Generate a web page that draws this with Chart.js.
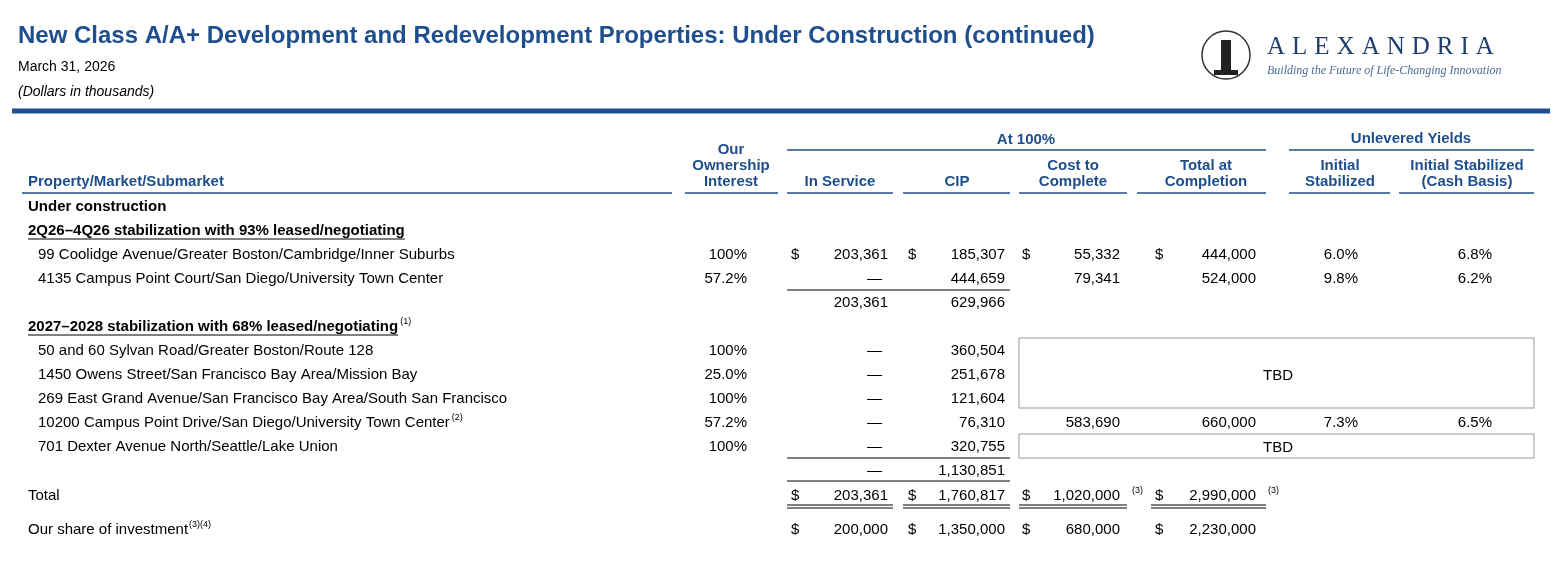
<!DOCTYPE html>
<html><head><meta charset="utf-8">
<script src="https://cdn.jsdelivr.net/npm/chart.js@4"></script>
<style>html,body{margin:0;padding:0;background:#fff}#w{width:1565px;height:567px}</style>
</head><body><div id="w"><canvas id="c"></canvas></div>
<script>
const title = "New Class A/A+ Development and Redevelopment Properties: Under Construction (continued)";
const subtitle = "March 31, 2026";
const unitsNote = "(Dollars in thousands)";
const group1 = "2Q26–4Q26 stabilization with 93% leased/negotiating";
const group2 = "2027–2028 stabilization with 68% leased/negotiating";
const properties = ["99 Coolidge Avenue/Greater Boston/Cambridge/Inner Suburbs","4135 Campus Point Court/San Diego/University Town Center",
 "50 and 60 Sylvan Road/Greater Boston/Route 128","1450 Owens Street/San Francisco Bay Area/Mission Bay","269 East Grand Avenue/San Francisco Bay Area/South San Francisco","10200 Campus Point Drive/San Diego/University Town Center","701 Dexter Avenue North/Seattle/Lake Union"];
const ownership = ["100%","57.2%","100%","25.0%","100%","57.2%","100%"];
const inService = ["203,361","—","—","—","—","—","—"];
const cip = ["185,307","444,659","360,504","251,678","121,604","76,310","320,755"];
const costToComplete = ["55,332","79,341","","","","583,690",""];
const totalAtCompletion = ["444,000","524,000","","","","660,000",""];
const initialStabilized = ["6.0%","9.8%","","","","7.3%",""];
const cashBasis = ["6.8%","6.2%","","","","6.5%",""];
const subtotal1 = ["203,361","629,966"];
const subtotal2 = ["—","1,130,851"];
const totals = ["203,361","1,760,817","1,020,000","2,990,000"];
const ourShare = ["200,000","1,350,000","680,000","2,230,000"];

const BLUE="#1f4e8c", F="'Liberation Sans', Arial, sans-serif";
const tablePlugin={id:'tbl',afterDraw(ch){
 const c=ch.ctx,X=v=>ch.scales.x.getPixelForValue(v),Y=v=>ch.scales.y.getPixelForValue(v);
 const T=(s,x,y,o={})=>{c.font=(o.f||'15px ')+F;c.fillStyle=o.c||'#000';c.textAlign=o.a||'left';c.textBaseline='middle';c.letterSpacing=o.ls||'0px';c.fillText(s,X(x),Y(y)+2);c.letterSpacing='0px';};
 const L=(x1,x2,y,w=1,col='#000')=>{c.strokeStyle=col;c.lineWidth=w;c.beginPath();c.moveTo(X(x1),Y(y));c.lineTo(X(x2),Y(y));c.stroke();};
 c.save();
 T(title,18,34,{f:'bold 24px ',c:BLUE});
 T(subtitle,18,65,{f:'14px '});
 T(unitsNote,18,90,{f:'italic 14px '});
 // logo
 c.strokeStyle='#333';c.lineWidth=1.5;c.beginPath();c.arc(X(1226),Y(55),24,0,7);c.stroke();
 c.fillStyle='#222';c.fillRect(X(1221),Y(40),10,32);c.fillRect(X(1214),Y(70),24,5);
 T("ALEXANDRIA",1267,45,{f:'25px "Liberation Serif",',c:'#1f3f6e',ls:'7px'});
 T("Building the Future of Life-Changing Innovation",1267,69,{f:'italic 12px "Liberation Serif",',c:'#4a6a95'});
 L(12,1550,111,5,BLUE);
 const hb='bold 15px ';
 T("At 100%",1026,138,{f:hb,c:BLUE,a:'center'});L(787,1266,150,1.5,BLUE);
 T("Unlevered Yields",1411,137,{f:hb,c:BLUE,a:'center'});L(1289,1534,150,1.5,BLUE);
 T("Our",731,148,{f:hb,c:BLUE,a:'center'});T("Ownership",731,164,{f:hb,c:BLUE,a:'center'});T("Interest",731,180,{f:hb,c:BLUE,a:'center'});
 T("Property/Market/Submarket",28,180,{f:hb,c:BLUE});
 T("In Service",840,180,{f:hb,c:BLUE,a:'center'});T("CIP",957,180,{f:hb,c:BLUE,a:'center'});
 T("Cost to",1073,164,{f:hb,c:BLUE,a:'center'});T("Complete",1073,180,{f:hb,c:BLUE,a:'center'});
 T("Total at",1206,164,{f:hb,c:BLUE,a:'center'});T("Completion",1206,180,{f:hb,c:BLUE,a:'center'});
 T("Initial",1340,164,{f:hb,c:BLUE,a:'center'});T("Stabilized",1340,180,{f:hb,c:BLUE,a:'center'});
 T("Initial Stabilized",1467,164,{f:hb,c:BLUE,a:'center'});T("(Cash Basis)",1467,180,{f:hb,c:BLUE,a:'center'});
 [[22,672],[685,778],[787,893],[903,1010],[1019,1127],[1137,1266],[1289,1390],[1399,1534]].forEach(s=>L(s[0],s[1],193,1.5,BLUE));
 T("Under construction",28,205,{f:'bold 15px '});
 const ul=(s,x,y)=>{T(s,x,y,{f:'bold 15px '});c.font='bold 15px '+F;const w=c.measureText(s).width;c.strokeStyle='#000';c.lineWidth=1;c.beginPath();c.moveTo(X(x),Y(y)+10);c.lineTo(X(x)+w,Y(y)+10);c.stroke();return w;};
 ul(group1,28,229);
 const w2=ul(group2,28,325);c.font='9px '+F;c.fillStyle='#000';c.textBaseline='middle';c.textAlign='left';c.fillText("(1)",X(28)+w2+2,Y(322));
 const rowsY=[253,277,349,373,397,421,445];
 rowsY.forEach((y,i)=>{
  T(properties[i],38,y);
  if(i===5){c.font='15px '+F;const w=c.measureText(properties[i]).width;c.font='9px '+F;c.fillText("(2)",X(38)+w+2,Y(y-3));}
  T(ownership[i],747,y,{a:'right'});
  const dash=inService[i]==='—';
  T(inService[i],dash?882:888,y,{a:'right'});
  T(cip[i],1005,y,{a:'right'});
  if(costToComplete[i]){T(costToComplete[i],1120,y,{a:'right'});T(totalAtCompletion[i],1256,y,{a:'right'});
   T(initialStabilized[i],1358,y,{a:'right'});T(cashBasis[i],1492,y,{a:'right'});}
 });
 [791,908,1022,1155].forEach(x=>T('$',x,253));
 L(787,1010,290);T(subtotal1[0],888,301,{a:'right'});T(subtotal1[1],1005,301,{a:'right'});
 c.strokeStyle='#999';c.lineWidth=1;c.strokeRect(X(1019),Y(338),X(1534)-X(1019),Y(408)-Y(338));
 c.strokeRect(X(1019),Y(434),X(1534)-X(1019),Y(458)-Y(434));
 T("TBD",1278,374,{a:'center'});T("TBD",1278,446,{a:'center'});
 L(787,1010,458);T(subtotal2[0],882,469,{a:'right'});T(subtotal2[1],1005,469,{a:'right'});
 L(787,1010,481);
 T("Total",28,494);
 const dx=[791,908,1022,1155],rx=[888,1005,1120,1256];
 totals.forEach((v,k)=>{T('$',dx[k],494);T(v,rx[k],494,{a:'right'});});
 c.font='9px '+F;c.fillStyle='#000';c.textAlign='left';c.fillText("(3)",X(1132),Y(491));c.fillText("(3)",X(1268),Y(491));
 [[787,893],[903,1010],[1019,1127],[1151,1266]].forEach(s=>{L(s[0],s[1],505);L(s[0],s[1],508);});
 T("Our share of investment",28,528);c.font='15px '+F;const ws=c.measureText("Our share of investment").width;c.font='9px '+F;c.fillText("(3)(4)",X(28)+ws+1,Y(525));
 ourShare.forEach((v,k)=>{T('$',dx[k],528);T(v,rx[k],528,{a:'right'});});
 c.restore();
}};
new Chart(document.getElementById('c'),{type:'scatter',data:{datasets:[{data:[]}]},
 options:{responsive:true,maintainAspectRatio:false,animation:false,layout:{padding:0},
 plugins:{legend:{display:false},tooltip:{enabled:false}},
 scales:{x:{type:'linear',min:0,max:1565,display:false},y:{type:'linear',min:0,max:567,reverse:true,display:false}}},
 plugins:[tablePlugin]});
</script></body></html>
